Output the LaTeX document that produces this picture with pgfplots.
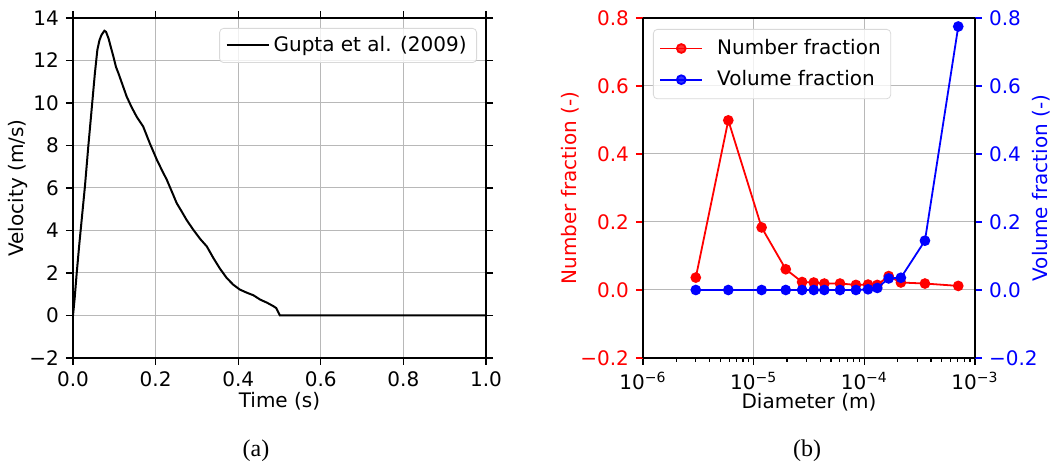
\documentclass[border=0pt]{standalone}
\usepackage{fontspec}
\setmainfont{DejaVu Sans}
\newfontfamily\capfont{Liberation Serif}
\usepackage{pgfplots}
\pgfplotsset{compat=1.18}

\pgfplotstableread{
t v
0.000 0.0
0.004 0.8
0.009 2.0
0.015 3.3
0.021 4.5
0.029 6.1
0.037 7.95
0.045 9.67
0.053 11.4
0.059 12.5
0.064 12.95
0.069 13.2
0.076 13.4
0.080 13.35
0.086 13.04
0.092 12.6
0.098 12.17
0.104 11.7
0.110 11.4
0.120 10.85
0.130 10.3
0.142 9.8
0.154 9.36
0.170 8.89
0.186 8.1
0.203 7.33
0.215 6.85
0.227 6.39
0.240 5.8
0.251 5.29
0.263 4.9
0.275 4.5
0.291 4.04
0.308 3.6
0.324 3.25
0.340 2.7
0.356 2.2
0.372 1.77
0.388 1.45
0.404 1.22
0.420 1.08
0.437 0.95
0.453 0.75
0.470 0.6
0.485 0.44
0.492 0.35
0.501 0.0
1.000 0.0
}\veltable

\pgfplotstableread{
d N V
3.0e-6 0.0365 0.0
5.9e-6 0.499 0.0
1.18e-5 0.184 0.0
1.95e-5 0.061 0.0
2.74e-5 0.0235 0.0
3.49e-5 0.022 0.0
4.35e-5 0.019 0.0
6.03e-5 0.019 0.0
8.4e-5 0.015 0.0
1.08e-4 0.016 0.002
1.31e-4 0.015 0.006
1.66e-4 0.041 0.034
2.14e-4 0.022 0.036
3.53e-4 0.019 0.145
7.06e-4 0.012 0.775
}\fractable

\begin{document}
\begin{tikzpicture}
\useasboundingbox (0,0) rectangle (525.5pt,232.5pt);
\pgfplotsset{
  every axis/.append style={
    scale only axis,
    font=\fontsize{10}{12}\selectfont,
    tick align=outside,
    major tick length=3.5pt,
    minor tick length=2pt,
    axis line style={line width=0.7pt},
    tick style={line width=0.6pt, black},
    grid style={line width=0.5pt, color=black!28},
    /pgf/number format/assume math mode=true,
    legend cell align=left,
    legend image code/.code={\draw[mark repeat=2,mark phase=2,#1] plot coordinates {(0pt,0pt)(10.5pt,0pt)(21pt,0pt)};},
    legend style={draw=black!15, rounded corners=2pt, fill=white, fill opacity=0.8, text opacity=1, font=\fontsize{10}{12}\selectfont, inner xsep=3pt, inner ysep=2pt},
  },
}
% ---------- (a) ----------
\begin{axis}[
  at={(36.5pt,53.5pt)}, anchor=south west,
  width=206.5pt, height=170pt,
  xmin=0, xmax=1, ymin=-2, ymax=14,
  xtick={0,0.2,0.4,0.6,0.8,1.0},
  xticklabels={0.0,0.2,0.4,0.6,0.8,1.0},
  ytick={-2,0,2,4,6,8,10,12,14},
  yticklabels={−2,0,2,4,6,8,10,12,14},
  grid=major,
  xlabel={Time (s)},
  ylabel={Velocity (m/s)},
  xlabel style={at={(axis description cs:0.5,0)}, anchor=center, yshift=-21.5pt},
  ylabel style={at={(axis description cs:0,0.5)}, anchor=center, yshift=27.5pt},
  legend style={at={(1,1)}, anchor=north east, xshift=-4.5pt, yshift=-5pt},
]
\addplot[black, line width=1pt] table[x=t, y=v] {\veltable};
\addlegendentry{Gupta et al. (2009)}
\end{axis}

% ---------- (b) left axis ----------
\begin{axis}[
  at={(321.5pt,53.5pt)}, anchor=south west,
  width=166pt, height=170pt,
  xmode=log, xmin=1e-6, xmax=1e-3,
  ymin=-0.2, ymax=0.8,
  xtick={1e-6,1e-5,1e-4,1e-3},
  xticklabels={10\textsuperscript{−6},10\textsuperscript{−5},10\textsuperscript{−4},10\textsuperscript{−3}},
  minor xtick={2e-6,3e-6,4e-6,5e-6,6e-6,7e-6,8e-6,9e-6,2e-5,3e-5,4e-5,5e-5,6e-5,7e-5,8e-5,9e-5,2e-4,3e-4,4e-4,5e-4,6e-4,7e-4,8e-4,9e-4},
  ytick={-0.2,0,0.2,0.4,0.6,0.8},
  yticklabels={−0.2,0.0,0.2,0.4,0.6,0.8},
  axis y line*=left,
  axis x line*=bottom,
  yticklabel style={red},
  y tick style={red, line width=0.6pt},
  xmajorgrids, ymajorgrids, xminorgrids=false,
  xlabel={Diameter (m)},
  ylabel={Number fraction (-)},
  ylabel style={red, at={(axis description cs:0,0.5)}, anchor=center, yshift=36.5pt},
  xlabel style={at={(axis description cs:0.5,0)}, anchor=center, yshift=-22pt},
]
\addplot[red, line width=0.9pt, mark=*, mark size=2.2pt, mark options={solid}] table[x=d, y=N] {\fractable};
\draw[line width=0.7pt] (rel axis cs:0,1) -- (rel axis cs:1,1);
\end{axis}

% ---------- (b) right axis ----------
\begin{axis}[
  at={(321.5pt,53.5pt)}, anchor=south west,
  width=166pt, height=170pt,
  xmode=log, xmin=1e-6, xmax=1e-3,
  ymin=-0.2, ymax=0.8,
  axis y line*=right,
  axis x line=none,
  ytick={-0.2,0,0.2,0.4,0.6,0.8},
  yticklabels={−0.2,0.0,0.2,0.4,0.6,0.8},
  yticklabel style={blue},
  y tick style={blue, line width=0.6pt},
  ylabel={Volume fraction (-)},
  ylabel style={blue, at={(axis description cs:1,0.5)}, anchor=center, yshift=-33pt},
  legend style={at={(0,1)}, anchor=north west, xshift=5pt, yshift=-5.5pt, row sep=2.5pt, inner ysep=3pt,
    /tikz/every odd column/.append style={column sep=5pt}},
]
\addlegendimage{red, line width=0.9pt, mark=*, mark size=2.2pt}
\addlegendentry{Number fraction}
\addplot[blue, line width=0.9pt, mark=*, mark size=2.2pt] table[x=d, y=V] {\fractable};
\addlegendentry{Volume fraction}
\end{axis}

\node[font=\capfont\fontsize{12}{14}\selectfont] at (128pt,7pt) {(a)};
\node[font=\capfont\fontsize{12}{14}\selectfont] at (403.5pt,7pt) {(b)};
\end{tikzpicture}
\end{document}
